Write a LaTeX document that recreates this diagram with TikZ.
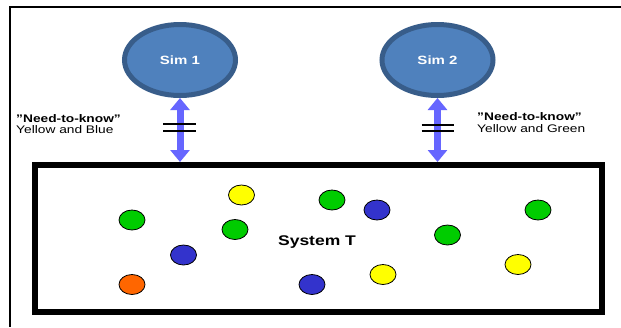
\documentclass[tikz,border=0pt]{standalone}
\usepackage{fontspec}
\setmainfont[FakeStretch=1.25]{Liberation Sans}
\usetikzlibrary{shapes.geometric,arrows.meta,calc}
\definecolor{simfill}{HTML}{4F81BD}
\definecolor{simedge}{HTML}{385D8A}
\definecolor{arrcol}{HTML}{6666FF}
\definecolor{cgreen}{HTML}{00CC00}
\definecolor{cyellow}{HTML}{FFFF00}
\definecolor{cblue}{HTML}{3333CC}
\definecolor{corange}{HTML}{FF6600}
\tikzset{
  simnode/.style={ellipse, fill=simfill, draw=simedge, line width=5pt, minimum width=111pt, minimum height=71pt, inner sep=0pt, text=white, font=\fontsize{12}{14}\selectfont\bfseries},
  sysbox/.style={draw=black, line width=6pt, minimum width=567pt, minimum height=147pt, inner sep=0pt},
  dblarrow/.style={draw=arrcol, line width=7pt, {Triangle[width=19pt,length=12pt]}-{Triangle[width=19pt,length=12pt]}},
  barline/.style={draw=black, line width=2pt},
  dot/.style={ellipse, draw=black, line width=0.8pt, minimum width=26pt, minimum height=20pt, inner sep=0pt},
  lbl/.style={anchor=base west, inner sep=0pt, font=\fontsize{11}{13}\selectfont},
  lblb/.style={lbl, font=\fontsize{11}{13}\selectfont\bfseries},
  frame/.style={draw=black, line width=2pt}
}
\begin{document}
\begin{tikzpicture}[x=1pt,y=-1pt]
\useasboundingbox (0,0) rectangle (621,327);
\fill[white] (0,0) rectangle (621,327);
\coordinate (fr1) at (621,7);
\coordinate (fr2) at (9.5,7);
\coordinate (fr3) at (9.5,327);
\draw[frame] (fr1) -- (fr2) -- (fr3);

\node[sysbox] (sys) at (318.5,238.5) {};
\node[anchor=base, inner sep=0pt, font=\fontsize{14}{16}\selectfont\bfseries] (syst) at (317,245) {System T};

\node[simnode] (s1) at (180,60) {Sim 1};
\node[simnode] (s2) at (437.5,60) {Sim 2};

\draw[dblarrow] (s1.south) -- (s1.south |- sys.north);
\draw[dblarrow] (s2.south) -- (s2.south |- sys.north);

\draw[barline] ($(s1.south)+(-17,26)$) -- ++(33,0);
\draw[barline] ($(s1.south)+(-17,33)$) -- ++(33,0);
\draw[barline] ($(s2.south)+(-16,27)$) -- ++(32,0);
\draw[barline] ($(s2.south)+(-16,33)$) -- ++(32,0);

\node[lblb] (n1a) at (16,122.5) {”Need-to-know”};
\node[lbl] (n1b) at (16,133) {Yellow and Blue};
\node[lblb] (n2a) at (477,120) {”Need-to-know”};
\node[lbl] (n2b) at (477,132.5) {Yellow and Green};

\node[dot, fill=cgreen] (d1) at (132,220) {};
\node[dot, fill=cyellow] (d2) at (241.5,195) {};
\node[dot, fill=cgreen] (d3) at (332,200) {};
\node[dot, fill=cblue] (d4) at (377,210) {};
\node[dot, fill=cgreen] (d5) at (538,210) {};
\node[dot, fill=cgreen] (d6) at (235,229.5) {};
\node[dot, fill=cgreen] (d7) at (447.5,235) {};
\node[dot, fill=cblue] (d8) at (183.5,255) {};
\node[dot, fill=cyellow] (d9) at (518,264.5) {};
\node[dot, fill=cyellow] (d10) at (383,274.5) {};
\node[dot, fill=corange] (d11) at (132,284.5) {};
\node[dot, fill=cblue] (d12) at (312,284.5) {};
\end{tikzpicture}
\end{document}
